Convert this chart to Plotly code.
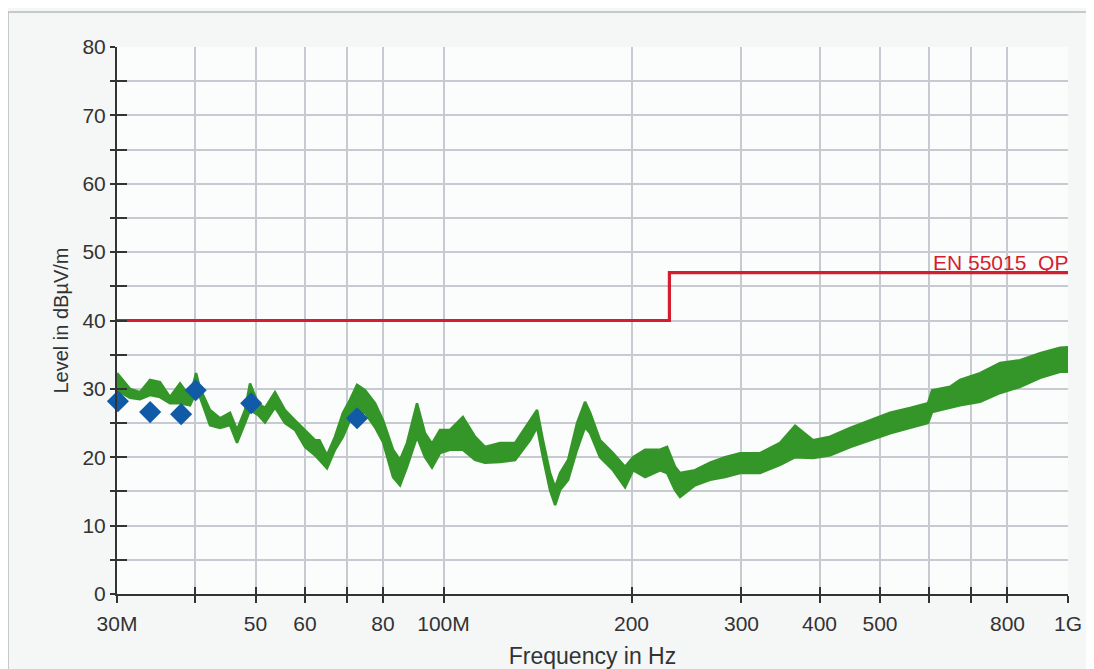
import plotly.graph_objects as go
import math

# ---------------- data ----------------
# measured trace envelope (frequency in MHz, upper/lower level in dBuV/m)
trace_freq_mhz = [30.0, 31.47, 32.65, 33.88, 35.15, 36.48, 37.85, 39.27, 40.15, 40.74,
                  42.27, 43.86, 45.51, 46.70, 48.10, 48.99, 50.46, 51.78, 53.72, 55.74,
                  57.83, 60.00, 62.26, 63.3, 65.07, 67.02, 69.03, 70.84, 72.69, 74.86,
                  77.67, 80.01, 83.01, 85.18, 87.41, 90.68, 93.40, 95.84, 98.71, 102.4,
                  107.4, 112.3, 116.5, 123.2, 130.2, 137.6, 141.2, 144.3, 148.1, 150.9,
                  153.7, 158.3, 163.6, 168.5, 171.7, 178.1, 186.8, 195.3, 201.2, 210.3,
                  222.2, 228.0, 234.8, 239.2, 252.8, 267.2, 282.4, 298.5, 321.3, 345.9,
                  365.6, 390.6, 416.0, 447.9, 482.1, 519.0, 558.7, 596.9, 605.8, 647.4,
                  671.7, 723.2, 778.7, 838.3, 902.4, 971.5, 1000.0]
trace_hi = [32.3, 30.0, 29.5, 31.3, 31.0, 28.8, 30.8, 28.8, 32.3, 30.1,
            26.9, 25.7, 26.5, 24.0, 26.9, 30.8, 27.9, 27.2, 29.5, 26.9,
            25.4, 24.0, 22.5, 22.5, 20.3, 23.0, 26.5, 28.4, 30.6, 29.8,
            27.9, 25.4, 21.1, 19.6, 22.1, 27.9, 23.5, 22.0, 24.0, 24.0,
            25.9, 23.0, 21.5, 22.1, 22.1, 25.4, 26.9, 22.5, 17.7, 15.6,
            17.7, 19.6, 25.0, 28.1, 26.5, 22.5, 20.6, 18.6, 20.0, 21.1,
            21.1, 21.5, 18.6, 17.7, 18.1, 19.2, 20.0, 20.6, 20.6, 22.1,
            24.6, 22.5, 23.0, 24.3, 25.4, 26.5, 27.2, 27.9, 29.8, 30.3,
            31.3, 32.3, 33.8, 34.2, 35.2, 36.0, 36.1]
trace_lo = [29.8, 28.7, 28.5, 29.1, 28.8, 27.9, 27.9, 27.6, 29.5, 28.8,
            24.7, 24.3, 24.7, 22.1, 25.0, 26.9, 26.2, 25.1, 27.3, 25.0,
            24.0, 21.5, 20.3, 19.6, 18.4, 21.1, 23.0, 25.4, 26.5, 26.5,
            24.4, 22.2, 17.1, 15.9, 18.6, 23.0, 20.0, 18.5, 20.6, 21.1,
            21.1, 19.6, 19.2, 19.3, 19.6, 22.5, 24.4, 20.0, 15.2, 13.0,
            15.2, 16.7, 21.1, 24.4, 23.5, 20.0, 18.1, 15.6, 18.1, 17.1,
            18.1, 17.7, 15.2, 14.2, 15.9, 16.7, 17.1, 17.7, 17.7, 18.9,
            20.0, 19.9, 20.3, 21.5, 22.5, 23.5, 24.3, 25.0, 26.6, 27.3,
            27.6, 28.1, 29.4, 30.3, 31.6, 32.5, 32.5]

# limit line EN 55015 QP
limit_freq_mhz = [30, 230, 230, 1000]
limit_level = [40, 40, 47, 47]
limit_name = "EN 55015\u00a0\u00a0QP"

# final (QP) measurement points
final_freq_mhz = [30.1, 33.9, 38.0, 40.1, 49.2, 72.7]
final_level = [28.2, 26.6, 26.3, 29.8, 27.9, 25.7]

# axes
x_tick_mhz = [30, 40, 50, 60, 70, 80, 100, 200, 300, 400, 500, 600, 700, 800, 1000]
x_tick_text = ["30M", "", "50", "60", "", "80", "100M", "200", "300", "400", "500", "", "", "800", "1G"]
y_tick_vals = list(range(0, 85, 5))
y_tick_text = [str(v) if v % 10 == 0 else "" for v in y_tick_vals]

# ---------------- figure ----------------
MHZ = 1e6
green = "rgb(52,150,40)"
red = "rgb(212,30,48)"
blue = "rgb(16,90,168)"
axis_col = "#333333"
grid_col = "#c8cad2"
font_fam = "Liberation Sans, Arial, sans-serif"

fig = go.Figure()

fig.add_trace(go.Scatter(
    x=[f * MHZ for f in trace_freq_mhz], y=trace_hi, mode="lines",
    line=dict(color=green, width=2.5), hoverinfo="skip", showlegend=False))
fig.add_trace(go.Scatter(
    x=[f * MHZ for f in trace_freq_mhz], y=trace_lo, mode="lines",
    line=dict(color=green, width=2.5), fill="tonexty", fillcolor=green,
    hoverinfo="skip", showlegend=False))

fig.add_trace(go.Scatter(
    x=[f * MHZ for f in final_freq_mhz], y=final_level, mode="markers",
    marker=dict(symbol="diamond", size=17, color=blue, line=dict(width=0)),
    cliponaxis=False, showlegend=False))

fig.add_trace(go.Scatter(
    x=[f * MHZ for f in limit_freq_mhz], y=limit_level, mode="lines",
    line=dict(color=red, width=3.2), xaxis="x2", yaxis="y2", showlegend=False))

fig.add_annotation(
    x=math.log10(limit_freq_mhz[-1] * MHZ), y=limit_level[-1], xref="x", yref="y",
    text=limit_name, showarrow=False, xanchor="right", yanchor="bottom",
    xshift=2, yshift=-3, font=dict(family=font_fam, size=21, color=red))

xr = [math.log10(x_tick_mhz[0] * MHZ), math.log10(x_tick_mhz[-1] * MHZ)]
common_x = dict(type="log", range=xr, tickvals=[v * MHZ for v in x_tick_mhz])
common_y = dict(range=[0, 80], tickvals=y_tick_vals)

fig.update_layout(
    width=1086, height=661,
    margin=dict(l=109, r=26, t=39, b=75, autoexpand=False),
    paper_bgcolor="#f5f7f7", plot_bgcolor="#fbfcfc",
    font=dict(family=font_fam, size=21, color=axis_col),
    xaxis=dict(**common_x, ticktext=x_tick_text, showgrid=True, gridcolor=grid_col,
               gridwidth=1.5, zeroline=False, showline=True, linecolor=axis_col,
               linewidth=2, ticks="outside", ticklen=7, tickwidth=2, tickcolor=axis_col,
               ticklabelstandoff=3, automargin=False,
               title=dict(text="Frequency in Hz", standoff=18, font=dict(size=23))),
    yaxis=dict(**common_y, ticktext=y_tick_text, showgrid=True, gridcolor=grid_col,
               gridwidth=1.5, zeroline=False, showline=True, linecolor=axis_col,
               linewidth=2, ticks="outside", ticklen=5, tickwidth=2, tickcolor=axis_col,
               ticklabelstandoff=0, automargin=False,
               title=dict(text="Level in dBµV/m", standoff=8, font=dict(size=20))),
    xaxis2=dict(**common_x, overlaying="x", anchor="y", side="bottom",
                showticklabels=False, showgrid=False, zeroline=False, showline=False,
                ticks="inside", ticklen=7, tickwidth=2, tickcolor=axis_col, automargin=False),
    yaxis2=dict(**common_y, overlaying="y", anchor="x", side="left",
                showticklabels=False, showgrid=False, zeroline=False, showline=False,
                ticks="inside", ticklen=10, tickwidth=2, tickcolor=axis_col, automargin=False),
    shapes=[dict(type="rect", xref="paper", yref="paper",
                 x0=-0.1146, x1=1.024, y0=-0.15, y1=1.064,
                 line=dict(color="#b8babc", width=1.5), layer="below")],
)

fig.write_html("out.html")
